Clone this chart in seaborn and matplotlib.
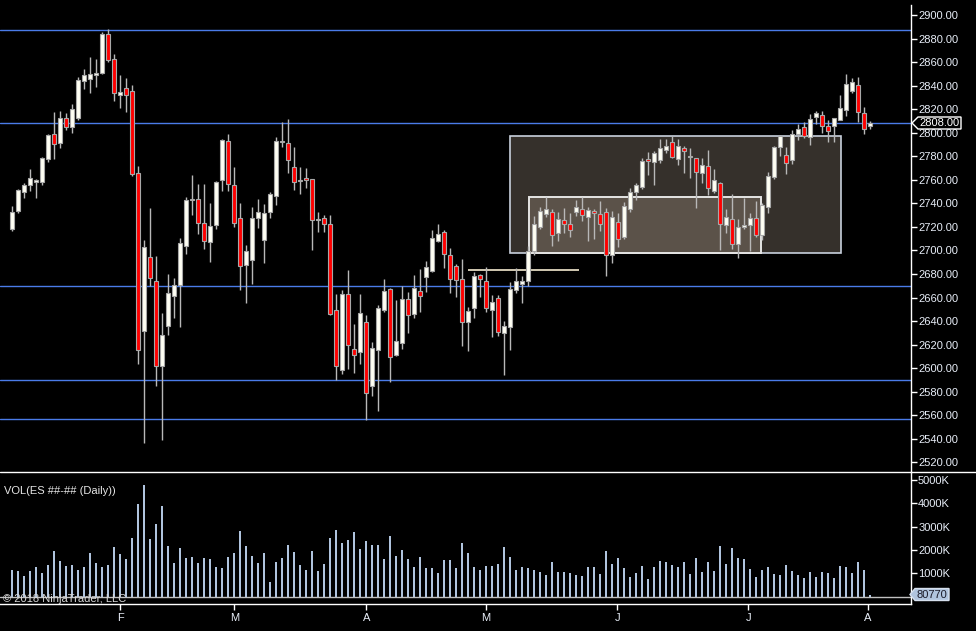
import numpy as np
import pandas as pd
import matplotlib
matplotlib.use("Agg")
import matplotlib.pyplot as plt
import seaborn as sns
from matplotlib.patches import Rectangle, Polygon
from matplotlib.lines import Line2D

# ---------------- data ----------------
opens = [2718.5, 2733.8, 2749.9, 2755.3, 2758.5, 2758.4, 2777.4, 2798.6, 2791.5, 2812.2,
         2805.1, 2812.8, 2844.2, 2845.9, 2848.7, 2850.7, 2883.6, 2862.3, 2831.8, 2837.7,
         2835.2, 2765.5, 2631.8, 2694.1, 2673.8, 2602.1, 2636.1, 2661.6, 2670.9, 2704.0,
         2742.8, 2743.4, 2723.0, 2706.9, 2721.3, 2760.1, 2792.7, 2755.3, 2727.3, 2687.4,
         2691.6, 2727.3, 2708.6, 2732.4, 2746.0, 2792.4, 2791.0, 2770.6, 2759.0, 2761.3,
         2760.4, 2726.1, 2727.3, 2722.2, 2649.1, 2598.1, 2662.7, 2616.0, 2613.4, 2638.9,
         2584.6, 2615.1, 2649.1, 2667.0, 2610.9, 2621.1, 2658.5, 2645.7, 2665.3, 2677.1,
         2682.2, 2707.7, 2715.4, 2695.8, 2686.5, 2675.7, 2638.9, 2651.4, 2678.9, 2673.7,
         2649.7, 2659.3, 2630.2, 2635.2, 2666.1, 2671.2, 2673.7, 2699.2, 2719.6, 2730.7,
         2732.4, 2714.5, 2725.6, 2722.2, 2732.4, 2734.9, 2728.1, 2733.2, 2730.7, 2732.4,
         2696.4, 2723.9, 2711.1, 2734.9, 2749.3, 2754.2, 2777.4, 2774.8, 2776.5, 2785.0,
         2791.8, 2777.4, 2786.7, 2779.7, 2778.2, 2765.5, 2771.4, 2750.2, 2757.0, 2721.3,
         2726.4, 2705.2, 2719.6, 2721.3, 2727.3, 2712.8, 2736.6, 2762.1, 2787.6, 2780.8,
         2776.5, 2798.6, 2804.6, 2796.1, 2813.1, 2814.8, 2805.4, 2805.4, 2810.5, 2819.0,
         2835.2, 2840.2, 2816.5, 2805.4]
highs = [2737.7, 2751.9, 2757.0, 2769.2, 2761.0, 2779.4, 2798.6, 2817.6, 2818.4, 2816.7,
         2824.4, 2847.3, 2854.1, 2864.3, 2862.3, 2885.6, 2888.1, 2866.9, 2849.0, 2846.5,
         2840.3, 2771.7, 2708.9, 2736.0, 2695.3, 2646.9, 2680.0, 2676.6, 2710.6, 2745.1,
         2764.1, 2756.4, 2756.4, 2740.3, 2759.0, 2794.7, 2798.9, 2770.9, 2740.3, 2704.6,
         2736.9, 2743.7, 2739.5, 2749.6, 2796.1, 2809.1, 2811.7, 2787.9, 2770.6, 2769.7,
         2761.0, 2732.4, 2730.1, 2730.1, 2663.0, 2666.4, 2683.4, 2637.2, 2663.0, 2644.9,
         2621.9, 2653.4, 2675.7, 2667.8, 2657.9, 2669.5, 2664.4, 2678.9, 2683.9, 2690.7,
         2717.1, 2722.5, 2717.1, 2701.8, 2688.5, 2692.7, 2652.0, 2681.4, 2680.0, 2685.7,
         2662.1, 2662.1, 2640.1, 2673.2, 2685.1, 2678.3, 2703.8, 2729.3, 2736.6, 2745.1,
         2734.9, 2732.4, 2736.1, 2731.5, 2742.9, 2745.1, 2736.6, 2734.9, 2742.0, 2735.8,
         2733.2, 2731.5, 2741.4, 2752.7, 2757.0, 2778.2, 2783.3, 2784.2, 2794.4, 2794.4,
         2796.9, 2794.4, 2788.7, 2786.7, 2778.5, 2778.2, 2785.3, 2768.9, 2757.9, 2734.9,
         2747.7, 2726.4, 2744.3, 2731.5, 2741.7, 2740.0, 2766.3, 2788.7, 2797.8, 2787.6,
         2802.0, 2807.1, 2808.8, 2815.6, 2818.2, 2818.2, 2810.5, 2812.2, 2831.7, 2849.6,
         2846.2, 2847.0, 2821.6, 2809.7]
lows = [2716.8, 2732.1, 2744.8, 2750.8, 2744.8, 2755.9, 2775.4, 2777.9, 2787.3, 2802.3,
        2800.0, 2810.8, 2837.1, 2834.0, 2838.8, 2849.9, 2860.1, 2827.2, 2821.0, 2817.6,
        2763.5, 2603.8, 2536.7, 2670.1, 2585.1, 2539.0, 2628.5, 2642.9, 2635.2, 2697.3,
        2730.4, 2714.0, 2701.5, 2690.5, 2718.5, 2750.8, 2750.8, 2720.2, 2666.7, 2655.6,
        2671.8, 2718.8, 2689.6, 2727.8, 2738.3, 2787.6, 2765.8, 2751.3, 2748.2, 2753.3,
        2700.6, 2716.0, 2716.0, 2645.4, 2589.6, 2594.7, 2599.6, 2596.2, 2603.8, 2555.7,
        2576.6, 2563.3, 2647.4, 2587.9, 2610.0, 2616.0, 2629.6, 2642.9, 2648.0, 2664.4,
        2681.7, 2707.0, 2684.8, 2663.6, 2660.7, 2619.1, 2614.8, 2642.9, 2660.7, 2648.0,
        2626.8, 2627.6, 2594.5, 2615.7, 2664.1, 2655.6, 2669.8, 2696.4, 2717.9, 2728.1,
        2704.1, 2707.7, 2714.5, 2711.7, 2729.0, 2725.0, 2707.7, 2709.4, 2716.8, 2678.6,
        2689.0, 2703.2, 2709.4, 2732.4, 2742.6, 2751.9, 2763.8, 2755.3, 2774.0, 2782.5,
        2778.2, 2772.3, 2765.5, 2761.2, 2735.8, 2757.0, 2746.8, 2748.5, 2700.1, 2714.5,
        2700.9, 2693.3, 2717.9, 2699.2, 2711.4, 2708.9, 2731.5, 2761.0, 2780.5, 2765.2,
        2773.7, 2793.5, 2795.2, 2789.8, 2807.1, 2800.0, 2792.4, 2792.4, 2810.5, 2813.9,
        2833.5, 2808.8, 2798.6, 2802.9]
closes = [2732.4, 2751.0, 2755.3, 2761.3, 2759.5, 2778.2, 2797.8, 2790.7, 2812.2, 2805.1,
          2819.9, 2844.5, 2848.7, 2849.6, 2850.7, 2883.6, 2862.1, 2833.5, 2834.3, 2831.8,
          2765.2, 2615.7, 2702.6, 2676.9, 2602.1, 2627.9, 2663.9, 2670.4, 2706.0, 2742.6,
          2743.4, 2723.0, 2707.7, 2720.8, 2757.9, 2793.5, 2756.2, 2723.0, 2686.5, 2699.2,
          2727.3, 2732.4, 2731.5, 2747.7, 2792.7, 2793.0, 2776.5, 2757.9, 2759.6, 2759.6,
          2726.1, 2726.7, 2722.2, 2646.3, 2601.5, 2662.7, 2619.4, 2610.9, 2646.6, 2578.6,
          2616.8, 2650.8, 2665.3, 2609.2, 2622.8, 2658.5, 2644.9, 2667.8, 2661.0, 2685.6,
          2710.3, 2713.7, 2696.7, 2675.5, 2674.6, 2638.9, 2648.3, 2678.0, 2675.5, 2650.8,
          2655.9, 2631.0, 2635.8, 2666.9, 2673.7, 2673.7, 2699.2, 2722.2, 2733.2, 2734.9,
          2712.8, 2726.4, 2722.2, 2717.1, 2736.6, 2729.8, 2734.1, 2731.5, 2722.2, 2695.8,
          2728.1, 2709.4, 2737.5, 2749.3, 2755.3, 2775.7, 2775.7, 2782.5, 2786.7, 2788.4,
          2779.1, 2788.4, 2784.2, 2780.2, 2766.3, 2772.3, 2752.7, 2759.5, 2722.2, 2728.1,
          2705.2, 2719.6, 2721.3, 2727.3, 2712.8, 2738.3, 2763.0, 2787.6, 2796.9, 2774.0,
          2798.6, 2802.9, 2796.9, 2811.4, 2816.5, 2805.4, 2801.2, 2812.2, 2820.7, 2841.1,
          2842.8, 2817.3, 2802.9, 2808.0]
volumes_k = [1157, 1114, 900, 1114, 1271, 1029, 1371, 1971, 1543, 1329,
             1371, 1157, 1286, 1886, 1457, 1286, 1371, 2143, 1843, 1629,
             2529, 3986, 4800, 2486, 3129, 3900, 2186, 1457, 2100, 1671,
             1714, 1457, 1671, 1629, 1286, 1243, 1714, 1886, 2829, 2186,
             1757, 1457, 1886, 643, 1500, 1671, 2229, 1929, 1371, 1157,
             1971, 1114, 1414, 2529, 2871, 2314, 2443, 2786, 2057, 2400,
             2229, 2229, 1629, 2614, 1757, 2014, 1629, 1286, 1714, 1243,
             1243, 1029, 1586, 1586, 1243, 2314, 1886, 1286, 1157, 1329,
             1329, 1414, 2143, 1714, 1157, 1286, 1243, 1157, 1071, 943,
             1500, 1071, 1071, 1029, 943, 900, 1286, 1286, 986, 1971,
             1414, 1671, 1243, 857, 1029, 1329, 771, 1286, 1543, 1500,
             1371, 1286, 1500, 986, 1671, 1071, 1500, 1114, 2186, 1414,
             2100, 1671, 1629, 1200, 857, 1157, 1286, 986, 943, 1371,
             1114, 943, 814, 1071, 857, 1071, 1029, 814, 1329, 1286,
             1029, 1500, 1157, 81]
levels = [2887, 2808, 2670, 2590, 2557]
zone_outer = (83.05, 138.2, 2698, 2797)   # bar from, bar to, price low, price high
zone_inner = (86.2, 124.75, 2698, 2745)
ref_segment = (76, 94.45, 2683)
month_ticks = [18.05, 37.05, 59.05, 79, 100.9, 122.7, 142.6]
month_labels = ["F", "M", "A", "M", "J", "J", "A"]
price_ticks = list(range(2520, 2901, 20))
vol_ticks = [1000, 2000, 3000, 4000, 5000]
last_price = 2808.00
last_volume = 80770

df = pd.DataFrame({"bar": np.arange(len(closes)), "open": opens, "high": highs,
                   "low": lows, "close": closes, "vol": volumes_k})

# ---------------- style ----------------
sns.set_theme(style="ticks")
plt.rcParams['font.family'] = ['Liberation Sans', 'DejaVu Sans']
FG = "#e8eef8"

W, H = 976, 631
fig = plt.figure(figsize=(W / 100, H / 100), dpi=100, facecolor="black")
def fx(px): return px / W
def fy(py): return 1 - py / H

AX_R = 911
ax = fig.add_axes([0, fy(472), fx(AX_R), fy(5) - fy(472)])
axv = fig.add_axes([0, fy(604), fx(AX_R), fy(472) - fy(604)])
for a in (ax, axv):
    a.set_facecolor("black")
    a.grid(False)
    for s in a.spines.values():
        s.set_visible(False)
    a.spines["right"].set_visible(True)
    a.spines["right"].set_color("white")
    a.spines["right"].set_linewidth(1)
axv.spines["bottom"].set_visible(True)
axv.spines["bottom"].set_color("white")
axv.spines["bottom"].set_linewidth(1)

# ---------------- price panel ----------------
for lv in levels:
    ax.axhline(lv, color="#4a7be8", lw=1, zorder=1)

x0, x1, y0, y1 = zone_outer
ax.add_patch(Rectangle((x0, y0), x1 - x0, y1 - y0, facecolor="#35302b",
                       edgecolor="#c8d0dc", lw=1.2, zorder=1.5))
x0, x1, y0, y1 = zone_inner
ax.add_patch(Rectangle((x0, y0), x1 - x0, y1 - y0, facecolor="#5b5249",
                       edgecolor="#e4e4e4", lw=1.4, zorder=1.6))
ax.hlines(ref_segment[2], ref_segment[0], ref_segment[1], color="#f5ebd0", lw=1.2, zorder=2)

up = df["close"] >= df["open"]
ax.vlines(df["bar"], df["low"], df["high"], color="#b8b8b8", lw=1, zorder=3)
body_lo = np.minimum(df["open"], df["close"])
body_h = np.maximum(np.abs(df["close"] - df["open"]), 0.6)
ax.bar(df["bar"], body_h, bottom=body_lo, width=0.7,
       color=np.where(up, "#fffff4", "#ff0000"), edgecolor="#a8a8a8", lw=0.8, zorder=4)

ax.set_xlim(-2, (AX_R - 12) / 6)
ax.set_ylim(2900 - 457 / 1.1772, 2900 + 10 / 1.1772)
ax.set_xticks([])
ax.set_yticks(price_ticks)
ax.set_yticklabels([f"{p:.2f}" for p in price_ticks])
ax.yaxis.tick_right()
ax.tick_params(axis="y", right=True, left=False, length=4.3, width=1, color="white",
               labelcolor=FG, labelsize=8, pad=0.8)
ax.set_xlabel(""); ax.set_ylabel("")

# ---------------- volume panel ----------------
sns.barplot(data=df, x="bar", y="vol", native_scale=True, ax=axv, color="#b0c4de",
            width=0.25, saturation=1, linewidth=0, zorder=3)
axv.axhline(0, color="#c0c0c0", lw=1, zorder=2)
axv.set_xlim(-2, (AX_R - 12) / 6)
axv.set_ylim(-313, 5345)
axv.set_yticks(vol_ticks)
axv.set_yticklabels([f"{v}K" for v in vol_ticks])
axv.yaxis.tick_right()
axv.tick_params(axis="y", right=True, left=False, length=4.3, width=1, color="white",
                labelcolor=FG, labelsize=8, pad=0.8)
axv.set_xticks(month_ticks)
axv.set_xticklabels(month_labels)
axv.tick_params(axis="x", bottom=True, length=4, width=1, color="white",
                labelcolor=FG, labelsize=8, pad=2.5)
axv.set_xlabel(""); axv.set_ylabel("")

# panel separator
fig.add_artist(Line2D([0, 1], [fy(472), fy(472)], color="white", lw=1,
                      transform=fig.transFigure))

fig.text(fx(4), fy(490.5), "VOL(ES ##-## (Daily))", color="#e6e6e6", fontsize=8,
         va="center", ha="left")
fig.text(fx(3), fy(598.5), "\u00a9 2018 NinjaTrader, LLC", color="#d8d8d8", fontsize=8,
         va="center", ha="left", zorder=6)

# last price marker
yp = 123
fig.add_artist(Polygon([(fx(912), fy(yp)), (fx(918), fy(yp - 6)), (fx(961), fy(yp - 6)),
                        (fx(961), fy(yp + 6)), (fx(918), fy(yp + 6))], closed=True,
                       facecolor="black", edgecolor="white", lw=1,
                       transform=fig.transFigure, zorder=5))
fig.text(fx(940), fy(yp), f"{last_price:.2f}", color="white", fontsize=8,
         va="center", ha="center", zorder=6)

# last volume marker
yv = 594.5
fig.add_artist(Polygon([(fx(910), fy(yv)), (fx(915), fy(yv - 6)), (fx(949), fy(yv - 6)),
                        (fx(949), fy(yv + 6)), (fx(915), fy(yv + 6))], closed=True,
                       facecolor="#b0c4de", edgecolor="#d6e0ee", lw=1,
                       transform=fig.transFigure, zorder=5))
fig.text(fx(932), fy(yv), f"{last_volume}", color="#1a1a28", fontsize=8,
         va="center", ha="center", zorder=6)

fig.savefig("out.png", dpi=100, facecolor="black")
